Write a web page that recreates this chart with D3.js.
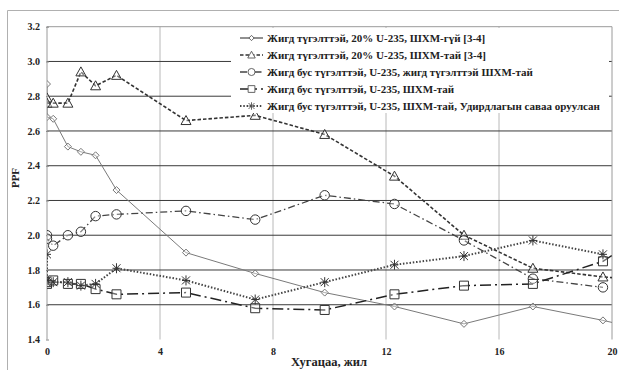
<!DOCTYPE html>
<html>
<head>
<meta charset="utf-8">
<script src="https://cdn.jsdelivr.net/npm/d3@7"></script>
<style>
  html, body { margin: 0; padding: 0; background: #fff; }
  svg { display: block; }
  svg text { font-family: "Liberation Serif", "DejaVu Serif", serif; }
</style>
</head>
<body>
<svg id="chart" width="619" height="370"></svg>
<script>
// Time (years) shared by all series; the last entry runs past the axis end and is clipped
const years = [0, 0, 0.22, 0.74, 1.2, 1.72, 2.46, 4.92, 7.37, 9.83, 12.3, 14.76, 17.2, 19.68, 22.14];

const uniform20NoBA   = [2.87, 2.68, 2.67, 2.51, 2.48, 2.46, 2.26, 1.90, 1.78, 1.67, 1.59, 1.49, 1.59, 1.51, 1.42];
const uniform20WithBA = [2.79, 2.76, 2.76, 2.76, 2.94, 2.86, 2.92, 2.66, 2.69, 2.58, 2.34, 2.00, 1.81, 1.76, 1.73];
const nonUniformUniBA = [2.00, 1.98, 1.94, 2.00, 2.02, 2.11, 2.12, 2.14, 2.09, 2.23, 2.18, 1.97, 1.75, 1.70, null];
const nonUniformBA    = [1.72, 1.73, 1.74, 1.72, 1.72, 1.69, 1.66, 1.67, 1.58, 1.57, 1.66, 1.71, 1.72, 1.85, 2.11];
const nonUniformRods  = [1.89, 1.74, 1.73, 1.73, 1.71, 1.72, 1.81, 1.74, 1.63, 1.73, 1.83, 1.88, 1.97, 1.89, null];

const legendLabels = [
  "Жигд түгэлттэй, 20% U-235, ШХМ-гүй [3-4]",
  "Жигд түгэлттэй, 20% U-235, ШХМ-тай [3-4]",
  "Жигд бус түгэлттэй, U-235, жигд түгэлттэй ШХМ-тай",
  "Жигд бус түгэлттэй, U-235, ШХМ-тай",
  "Жигд бус түгэлттэй, U-235, ШХМ-тай, Удирдлагын саваа оруулсан"
];

const xTicks = [0, 4, 8, 12, 16, 20];
const yTicks = [1.4, 1.6, 1.8, 2.0, 2.2, 2.4, 2.6, 2.8, 3.0, 3.2];
const xTitle = "Хугацаа, жил";
const yTitle = "PPF";

const FONT = "'Liberation Serif', 'DejaVu Serif', serif";

const styles = [
  { values: uniform20NoBA,   stroke: "#7a7a7a", width: 1,   dash: null,          marker: "diamond" },
  { values: uniform20WithBA, stroke: "#333",    width: 1.6, dash: "3.5,2",       marker: "triangle" },
  { values: nonUniformUniBA, stroke: "#444",    width: 1.3, dash: "7,3,1.5,3",   marker: "circle" },
  { values: nonUniformBA,    stroke: "#222",    width: 1.5, dash: "11,4,2,4",    marker: "square" },
  { values: nonUniformRods,  stroke: "#444",    width: 2,   dash: "1.5,1.8",     marker: "asterisk" }
];

const svg = d3.select("#chart");

// Outer frame
svg.append("path")
  .attr("d", "M7.5,370 V10.5 H619")
  .attr("fill", "none").attr("stroke", "#b0b0b0").attr("stroke-width", 1);

const x = d3.scaleLinear().domain([0, 20]).range([47, 612]);
const y = d3.scaleLinear().domain([1.4, 3.2]).range([339.5, 26.7]);

svg.append("defs").append("clipPath").attr("id", "plotClip")
  .append("rect").attr("x", 47).attr("y", 20).attr("width", 565).attr("height", 330);

// Vertical grid
svg.append("g").selectAll("line").data(xTicks.slice(1, -1)).join("line")
  .attr("x1", d => x(d)).attr("x2", d => x(d))
  .attr("y1", y(3.2)).attr("y2", y(1.4))
  .attr("stroke", "#b8b8b8").attr("stroke-width", 1);

// Horizontal grid
svg.append("g").selectAll("line").data(yTicks.slice(1, -1)).join("line")
  .attr("x1", x(0)).attr("x2", x(20))
  .attr("y1", d => y(d)).attr("y2", d => y(d))
  .attr("stroke", "#3a3a3a").attr("stroke-width", 1);

// Plot frame: left, top, right
svg.append("path")
  .attr("d", `M${x(0)},${y(1.4)} V${y(3.2)} H${x(20)} V${y(1.4)}`)
  .attr("fill", "none").attr("stroke", "#9a9a9a").attr("stroke-width", 1);

// Axes
const yAxis = d3.axisLeft(y).tickValues(yTicks).tickFormat(d3.format(".1f")).tickSize(3).tickPadding(6);
const gy = svg.append("g").attr("transform", `translate(${x(0) + 2},0)`).call(yAxis)
  .attr("font-family", FONT);
gy.select(".domain").remove();
gy.selectAll(".tick line").attr("stroke", "#888");
gy.selectAll("text").attr("font-size", 10).attr("font-weight", "bold").attr("fill", "#222")
  .style("font-family", FONT);

const xAxis = d3.axisBottom(x).tickValues(xTicks).tickFormat(d3.format("d")).tickSize(0).tickPadding(8);
const gx = svg.append("g").attr("transform", `translate(0,${y(1.4)})`).call(xAxis)
  .attr("font-family", FONT);
gx.select(".domain").remove();
gx.selectAll("text").attr("font-size", 10).attr("font-weight", "bold").attr("fill", "#222")
  .style("font-family", FONT);

svg.append("text").attr("x", 329).attr("y", 366)
  .attr("text-anchor", "middle").attr("font-size", 12.5).attr("font-weight", "bold").attr("fill", "#222")
  .style("font-family", FONT)
  .text(xTitle);
svg.append("text").attr("transform", "translate(19,178) rotate(-90)")
  .attr("text-anchor", "middle").attr("font-size", 11).attr("font-weight", "bold").attr("fill", "#222")
  .style("font-family", FONT)
  .text(yTitle);

// Marker shapes
function markerPath(kind) {
  switch (kind) {
    case "diamond":  return "M0,-3.5 L3.5,0 L0,3.5 L-3.5,0 Z";
    case "triangle": return "M0,-5 L5,4 L-5,4 Z";
    case "circle":   return d3.symbol(d3.symbolCircle, 70)();
    case "square":   return "M-4.5,-4.5 H4.5 V4.5 H-4.5 Z";
    case "asterisk": return "M-4,-4 L4,4 M-4,4 L4,-4 M0,-5 V5 M-4,0 H4";
  }
}

const plot = svg.append("g").attr("clip-path", "url(#plotClip)");

styles.forEach(s => {
  const pts = years.map((yr, i) => ({ yr, v: s.values[i] })).filter(p => p.v != null);
  plot.append("path")
    .datum(pts)
    .attr("fill", "none")
    .attr("stroke", s.stroke)
    .attr("stroke-width", s.width)
    .attr("stroke-dasharray", s.dash)
    .attr("d", d3.line().x(p => x(p.yr)).y(p => y(p.v)));
});

styles.forEach(s => {
  const pts = years.map((yr, i) => ({ yr, v: s.values[i] })).filter(p => p.v != null && p.yr <= 20);
  plot.append("g").selectAll("path").data(pts).join("path")
    .attr("transform", p => `translate(${x(p.yr)},${y(p.v)})`)
    .attr("d", markerPath(s.marker))
    .attr("fill", s.marker === "asterisk" ? "none" : "#fff")
    .attr("fill-opacity", s.marker === "asterisk" ? 0 : 0.35)
    .attr("stroke", s.marker === "diamond" ? "#777" : "#333")
    .attr("stroke-width", 1);
});

// Legend
const legend = svg.append("g");
legend.append("rect").attr("x", 231).attr("y", 28).attr("width", 378).attr("height", 85).attr("fill", "#fff");
const rowY = [38, 55, 72, 89, 106];
styles.forEach((s, i) => {
  const g = legend.append("g").attr("transform", `translate(0,${rowY[i]})`);
  g.append("line").attr("x1", 240).attr("x2", 263).attr("y1", 0).attr("y2", 0)
    .attr("stroke", s.stroke === "#7a7a7a" ? "#222" : s.stroke)
    .attr("stroke-width", s.width)
    .attr("stroke-dasharray", s.dash);
  g.append("path").attr("transform", "translate(251.5,0) scale(0.75)")
    .attr("d", markerPath(s.marker))
    .attr("fill", "#fff").attr("stroke", "#555").attr("stroke-width", 1.2);
  g.append("text").attr("x", 267).attr("y", 3.8)
    .attr("font-size", 11).attr("font-weight", "bold").attr("fill", "#222")
    .style("font-family", FONT)
    .text(legendLabels[i]);
});
</script>
</body>
</html>
